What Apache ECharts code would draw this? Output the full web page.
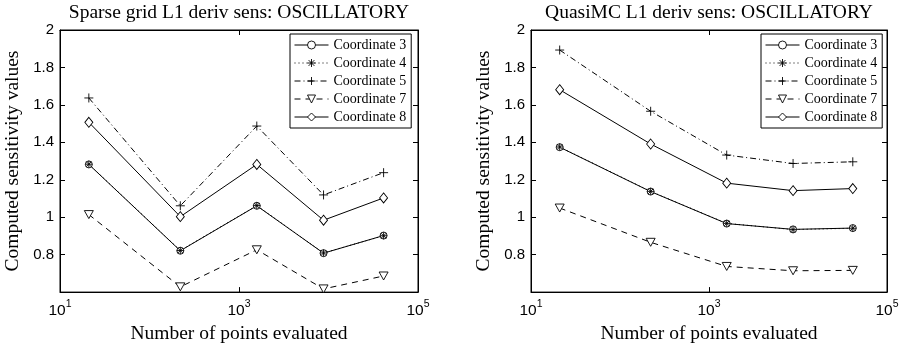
<!DOCTYPE html>
<html>
<head>
<meta charset="utf-8">
<script src="https://cdn.jsdelivr.net/npm/echarts@6/dist/echarts.min.js"></script>
<style>
html,body{margin:0;padding:0;background:#fff;}
#chart{width:904px;height:349px;}
</style>
</head>
<body>
<div id="chart"></div>
<script>
// ---- data ----
const pointsEvaluated = [21, 221, 1581, 8801, 41265];
const seriesNames = ['Coordinate 3', 'Coordinate 4', 'Coordinate 5', 'Coordinate 7', 'Coordinate 8'];

const sparseCoord3 = [1.282, 0.821, 1.061, 0.808, 0.902];
const sparseCoord4 = [1.283, 0.822, 1.062, 0.809, 0.901];
const sparseCoord5 = [1.637, 1.061, 1.487, 1.119, 1.238];
const sparseCoord7 = [1.014, 0.628, 0.826, 0.617, 0.686];
const sparseCoord8 = [1.507, 1.003, 1.282, 0.984, 1.103];

const qmcCoord3 = [1.374, 1.137, 0.966, 0.935, 0.942];
const qmcCoord4 = [1.375, 1.138, 0.967, 0.934, 0.941];
const qmcCoord5 = [1.893, 1.566, 1.332, 1.287, 1.296];
const qmcCoord7 = [1.049, 0.866, 0.737, 0.714, 0.716];
const qmcCoord8 = [1.681, 1.391, 1.182, 1.142, 1.153];

const titles = ['Sparse grid L1 deriv sens: OSCILLATORY', 'QuasiMC L1 deriv sens: OSCILLATORY'];
const xName = 'Number of points evaluated';
const yName = 'Computed sensitivity values';

// ---- styles ----
const SERIF = 'Liberation Serif';
const SANS = 'Liberation Sans';
const asterisk = 'path://M0,-5L0,5M-5,0L5,0M-3.6,-3.6L3.6,3.6M-3.6,3.6L3.6,-3.6';
const plus = 'path://M0,-5L0,5M-5,0L5,0';
const styles = [
  {symbol: 'circle', symbolSize: 7, type: 'solid', rotate: 0},
  {symbol: asterisk, symbolSize: 7, type: [1, 3], rotate: 0},
  {symbol: plus, symbolSize: 9, type: [6, 3, 1, 3], rotate: 0},
  {symbol: 'triangle', symbolSize: [9, 8], type: [6, 5], rotate: 180},
  {symbol: 'diamond', symbolSize: [8, 10], type: 'solid', rotate: 0}
];

const grids = [
  {left: 60, top: 30, width: 358, height: 266},
  {left: 531, top: 30, width: 356, height: 266}
];

function xAxisPair(gi) {
  const base = {
    type: 'log', logBase: 10, min: 10, max: 100000, interval: 2, gridIndex: gi,
    splitLine: {show: false}, minorTick: {show: false},
    axisLine: {show: true, lineStyle: {color: '#000', width: 1}},
    axisTick: {show: true, inside: true, length: 5, lineStyle: {color: '#000'}}
  };
  return [
    Object.assign({}, base, {
      position: 'bottom',
      name: xName, nameLocation: 'middle', nameGap: 24,
      nameTextStyle: {fontFamily: SERIF, fontSize: 19.5, color: '#000'},
      axisLabel: {
        margin: 7, color: '#000',
        formatter: function (v) { return '{b|10}{e|' + Math.round(Math.log10(v)) + '}'; },
        rich: {
          b: {fontFamily: SANS, fontSize: 15.5, color: '#000', lineHeight: 20, verticalAlign: 'bottom'},
          e: {fontFamily: SANS, fontSize: 10.5, color: '#000', lineHeight: 10, verticalAlign: 'top'}
        }
      }
    }),
    Object.assign({}, base, {position: 'top', axisLabel: {show: false}})
  ];
}

function yAxisPair(gi) {
  const base = {
    type: 'value', min: 0.6, max: 2, interval: 0.2, gridIndex: gi,
    splitLine: {show: false},
    axisLine: {show: true, lineStyle: {color: '#000', width: 1}},
    axisTick: {show: true, inside: true, length: 5, lineStyle: {color: '#000'}}
  };
  return [
    Object.assign({}, base, {
      position: 'left',
      name: yName, nameLocation: 'middle', nameGap: 37,
      nameTextStyle: {fontFamily: SERIF, fontSize: 19.5, color: '#000'},
      axisLabel: {
        margin: 6, color: '#000', fontFamily: SANS, fontSize: 15,
        formatter: function (v) { return Math.abs(v - 0.6) < 1e-6 ? '' : String(Math.round(v * 10) / 10); }
      }
    }),
    Object.assign({}, base, {position: 'right', axisLabel: {show: false}})
  ];
}

function makeSeries(gi, arrays) {
  return arrays.map(function (arr, i) {
    const st = styles[i];
    return {
      type: 'line', name: seriesNames[i],
      xAxisIndex: gi * 2, yAxisIndex: gi * 2,
      data: pointsEvaluated.map(function (x, k) { return [x, arr[k]]; }),
      symbol: st.symbol, symbolSize: st.symbolSize, symbolRotate: st.rotate,
      showAllSymbol: true,
      lineStyle: {color: '#000', width: 1, type: st.type},
      itemStyle: {color: '#fff', borderColor: '#000', borderWidth: 0.9},
      emphasis: {disabled: true},
      animation: false, silent: true
    };
  });
}

const sparseArrays = [sparseCoord3, sparseCoord4, sparseCoord5, sparseCoord7, sparseCoord8];
const qmcArrays = [qmcCoord3, qmcCoord4, qmcCoord5, qmcCoord7, qmcCoord8];

function legendFor(left) {
  return {
    data: seriesNames, orient: 'vertical', left: left, top: 34,
    backgroundColor: '#fff', borderColor: '#000', borderWidth: 1,
    padding: [3, 5, 3, 4], itemWidth: 34, itemHeight: 10, itemGap: 2,
    itemStyle: {color: '#fff', borderColor: '#000', borderWidth: 0.9},
    lineStyle: {color: '#000', width: 1},
    textStyle: {fontFamily: SERIF, fontSize: 14, color: '#000', lineHeight: 16},
    selectedMode: false
  };
}

const chart = echarts.init(document.getElementById('chart'), null, {renderer: 'canvas'});
chart.setOption({
  backgroundColor: '#fff',
  animation: false,
  title: titles.map(function (t, i) {
    return {
      text: t, left: grids[i].left + grids[i].width / 2, top: 3, textAlign: 'center', padding: 0,
      textStyle: {fontFamily: SERIF, fontSize: 19.5, fontWeight: 'normal', color: '#000'}
    };
  }),
  legend: [legendFor(290), legendFor(761)],
  grid: grids.map(function (g) {
    return Object.assign({show: true, borderColor: '#000', borderWidth: 1, backgroundColor: '#fff'}, g);
  }),
  xAxis: xAxisPair(0).concat(xAxisPair(1)),
  yAxis: yAxisPair(0).concat(yAxisPair(1)),
  series: makeSeries(0, sparseArrays).concat(makeSeries(1, qmcArrays))
});
</script>
</body>
</html>
